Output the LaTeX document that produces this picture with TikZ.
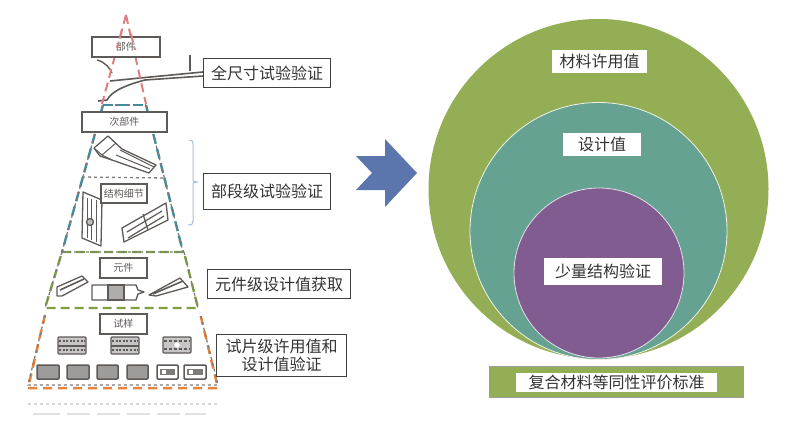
\documentclass[tikz,border=0pt]{standalone}
\usepackage{fontspec}
\setmainfont{Noto Sans CJK SC}
\definecolor{cgreen}{HTML}{94AE55}
\definecolor{cteal}{HTML}{66A292}
\definecolor{cpurple}{HTML}{805C90}
\definecolor{carrow}{HTML}{5B76AC}
\definecolor{cdred}{HTML}{DE7F7F}
\definecolor{cdteal}{HTML}{3F8C9C}
\definecolor{cdgreen}{HTML}{7F9F3F}
\definecolor{cdorange}{HTML}{E8823C}
\definecolor{cgrey}{HTML}{5E5A58}
\definecolor{cbrace}{HTML}{A9BCDC}
\tikzset{
  x=1pt,y=-1pt,
  lab/.style={draw=black!75,line width=1pt,fill=white,inner sep=0pt,align=center,font=\fontsize{16}{18.5}\selectfont,text=black!80},
  wlab/.style={fill=white,inner sep=0pt,align=center,font=\fontsize{16}{20}\selectfont,text=black!80},
  tiny box/.style={draw=cgrey,line width=1.5pt,fill=white,inner sep=0pt,font=\fontsize{10}{11}\selectfont,text=cgrey},
  part/.style={draw=cgrey,line width=1.3pt,fill=white,line join=round},
  dred/.style={cdred,line width=2pt,dash pattern=on 9pt off 5pt},
  dteal/.style={cdteal,line width=2.4pt,dash pattern=on 10pt off 5pt},
  dgreen/.style={cdgreen,line width=2.4pt,dash pattern=on 9pt off 5pt},
  dorange/.style={cdorange,line width=2.5pt,dash pattern=on 9pt off 6pt},
  dgrey/.style={cgrey!80,line width=1.3pt,dash pattern=on 3pt off 3pt},
  spec/.style={draw=cgrey,line width=1.5pt,fill=cgrey!60,rounded corners=1pt},
  grid/.style={draw=cgrey,line width=1.4pt,fill=cgrey!35,rounded corners=1pt},
}
\newcommand{\boxat}[6]{\node[#1,minimum width=#5pt-#3pt,minimum height=#6pt-#4pt,anchor=north west] (#2) at (#3,#4) }
\begin{document}
\begin{tikzpicture}
\useasboundingbox (0,0) rectangle (790,426);
% right circles
\node[circle,fill=cgreen,minimum size=340pt,inner sep=0pt] (outer) at (598.5,189) {};
\node[circle,fill=cteal,draw=white!85!cgreen,line width=0.8pt,minimum size=257pt,inner sep=0pt] (middle) at (598.5,231) {};
\node[circle,fill=cpurple,draw=white!80!cpurple,line width=0.8pt,minimum size=170pt,inner sep=0pt] (inner) at (599,273) {};
\node[wlab,minimum width=95pt,minimum height=23pt] (l1) at (599.5,61.5) {材料许用值};
\node[wlab,minimum width=78pt,minimum height=23pt] (l2) at (602,144.5) {设计值};
\node[wlab,minimum width=118pt,minimum height=27pt] (l3) at (603,271) {少量结构验证};
\node[draw=cgrey!60,fill=cgreen,line width=0.8pt,minimum width=254pt,minimum height=31pt,inner sep=0pt] (bar) at (616,381.5) {};
\node[wlab,minimum width=201pt,minimum height=19pt] (barl) at (616.5,382) {复合材料等同性评价标准};
% big arrow
\fill[carrow] (356,156) -- (385,156) -- (385,139) -- (417,173) -- (385,207) -- (385,190) -- (356,190) -- (372,173) -- cycle;
% ghost reflection
\draw[cgrey!25,line width=1.2pt,dash pattern=on 3pt off 3pt] (28,404) -- (218,404);
\foreach \a/\b in {33/60,67/90,97/120,127/150,157/180,185/206}
  \draw[cgrey!18,line width=1.5pt] (\a,414) -- (\b,414);
% full-size aircraft part
\draw[cgrey,line width=1.4pt] (97,60) .. controls (105,62) and (110,68) .. (112,73);
\draw[cgrey,line width=1.6pt] (110,81) -- (140,78) -- (203,72);
\draw[cgrey,line width=1.6pt] (98,101) -- (107,100) .. controls (112,90) and (130,84) .. (145,80) -- (203,76);
\draw[cgrey,line width=1.8pt] (190,55) -- (190,71);
% sub-part
\draw[part] (94,148) -- (108,136) -- (122,149) -- (156,165) -- (149,173) -- (112,160) -- (100,156) -- cycle;
\draw[part,line width=1pt] (94,148) -- (102,155) -- (116,143) (102,155) -- (112,160) (116,155) -- (150,169) (120,150) -- (154,167);
% details
\draw[part] (83,192) -- (102,200) -- (101,246) -- (82,238) -- cycle;
\draw[cgrey,line width=1pt] (87,198) -- (87,238) (91,199) -- (91,240) (96,200) -- (96,242);
\draw[part,fill=cgrey!40] (90,222) circle (3.5pt);
\draw[part] (122,228) -- (166,203) -- (168,220) -- (124,242) -- cycle;
\draw[cgrey,line width=1.2pt] (127,232) -- (162,211) (128,238) -- (164,216) (143,214) -- (148,230);
% element specimens
\draw[part] (57,287) -- (82,276) -- (88,282) -- (62,296) -- (57,296) -- cycle;
\draw[cgrey,line width=1.6pt] (60,290) -- (84,279);
\draw[part] (92,285) -- (136,285) -- (138,290) -- (144,292) -- (138,294) -- (136,300) -- (92,300) -- cycle;
\draw[cgrey,line width=1.4pt,fill=cgrey!50] (108,285) rectangle (124,300);
\draw[part] (149,295) -- (180,278) -- (188,287) -- (156,296) -- cycle;
\draw[cgrey,line width=1.6pt] (153,294) -- (183,281);
% coupons
\foreach \a/\b in {58/86,111/139}{
  \draw[grid] (\a,337) rectangle (\b,354);
  \draw[cgrey,line width=2pt] (\a,345.5) -- (\b,345.5);
  \draw[cgrey,line width=1.3pt,dash pattern=on 2pt off 1.6pt] (\a+1,341) -- (\b-1,341) (\a+1,350) -- (\b-1,350);
}
\draw[grid] (163,337) rectangle (191,353);
\draw[cgrey,line width=1.3pt,dash pattern=on 3pt off 2pt] (164,341) -- (190,341) (164,349) -- (190,349);
\draw[white,fill=white] (177,345) circle (2.4pt);
\foreach \a/\b in {37/59,67/89,97/118,127/148}
  \draw[spec] (\a,365) rectangle (\b,379);
\foreach \a/\b in {157/178,184/206}{
  \draw[spec,fill=white] (\a,365) rectangle (\b,379);
  \fill[cgrey!80] (\a+3,369) rectangle (\b-3,375);
  \fill[white] (\a+5,370) rectangle (\a+9,374);
}
% frame lines
\draw[dred] (126,15) -- (102,104);
\draw[dred] (126,15) -- (146,104);
\draw[dgrey] (103,105) -- (146,105);
\draw[dteal] (103,105) -- (146,105);
\draw[dteal] (103,105) -- (62,252);
\draw[dteal] (146,105) -- (183,252);
\draw[dgrey] (103,105) -- (62,252) (146,105) -- (183,252);
\draw[dgrey] (82,177) -- (166,178);
\draw[dgreen] (62,252) -- (184,252) -- (198,308) -- (45,308) -- cycle;
\draw[dgrey] (62,252) -- (184,252) (62,252) -- (45,308) (184,252) -- (198,308);
\draw[dorange] (45,315) -- (28,388) -- (218,388) -- (200,313);
\draw[dgrey] (45,315) -- (28,385) -- (218,385) -- (200,313);
% small title boxes
\boxat{tiny box}{b1}{91}{36}{159}{56} {部件};
\boxat{tiny box}{b2}{81}{111}{166}{131} {次部件};
\boxat{tiny box}{b3}{100}{183}{146}{202} {结构细节};
\boxat{tiny box}{b4}{99}{257}{146}{277} {元件};
\boxat{tiny box}{b5}{99}{313}{146}{333} {试样};
\draw[dred] (122,30) -- (117,48);
\draw[dred] (131,34) -- (135,50);
% brace
\draw[cbrace,line width=1pt] (189,140) .. controls (192,140) and (193,141) .. (193,144) -- (193,181) -- (197,182) -- (193,183) -- (193,221) .. controls (193,224) and (192,225) .. (188,225);
% left labels
\boxat{lab}{t1}{203}{58}{330}{87} {全尺寸试验验证};
\boxat{lab}{t2}{203}{173}{330}{209} {部段级试验验证};
\boxat{lab}{t3}{207}{269}{350}{298} {元件级设计值获取};
\boxat{lab}{t4}{216}{334}{346}{376} {试片级许用值和\\设计值验证};
\end{tikzpicture}
\end{document}
